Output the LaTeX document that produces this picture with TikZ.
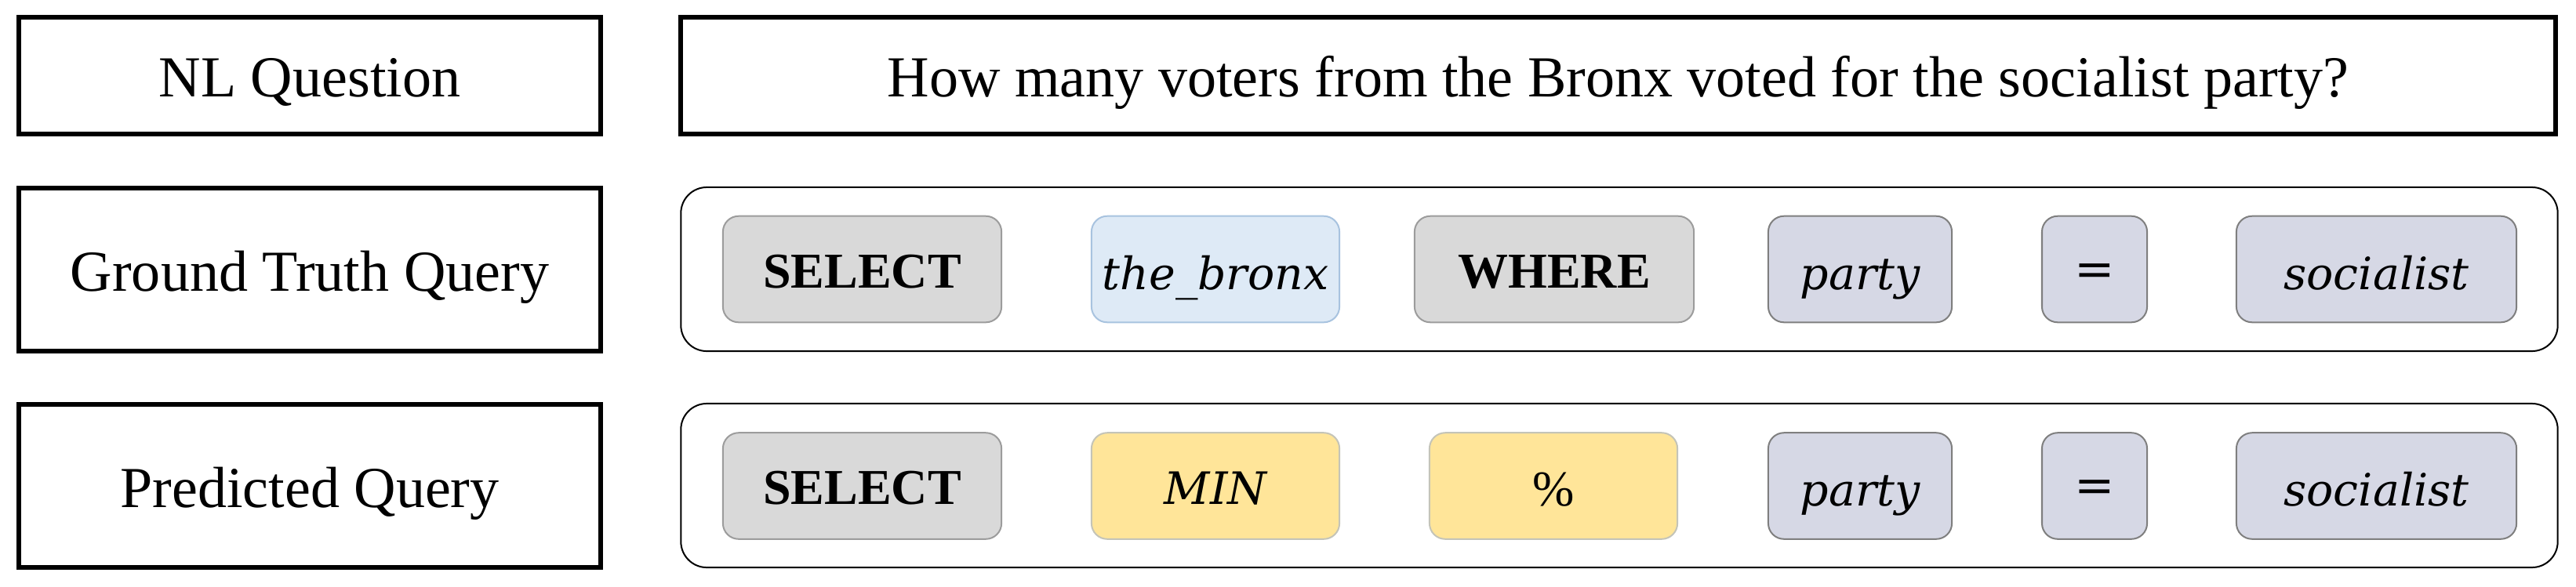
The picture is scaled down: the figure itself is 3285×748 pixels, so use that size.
\documentclass[tikz,border=0pt]{standalone}
\usepackage{fontspec}
\setmainfont{Liberation Serif}
\newfontfamily\tokserif{DejaVu Serif}
\definecolor{kwfill}{HTML}{D9D9D9}
\definecolor{kwdraw}{HTML}{9C9C9C}
\definecolor{bluefill}{HTML}{DEEAF6}
\definecolor{bluedraw}{HTML}{A8C3DF}
\definecolor{lavfill}{HTML}{D6D8E5}
\definecolor{lavdraw}{HTML}{7F7F7F}
\definecolor{yelfill}{HTML}{FFE599}
\definecolor{yeldraw}{HTML}{C4C4B8}
\newcommand{\lblfont}{\fontsize{21.06pt}{25pt}\selectfont}
\newcommand{\kwfont}{\fontsize{18.2pt}{22pt}\selectfont\bfseries}
\newcommand{\tokfont}{\fontsize{16.2pt}{20pt}\selectfont\tokserif\itshape}
\newcommand{\eqfont}{\fontsize{17.5pt}{20pt}\selectfont\tokserif}
\newcommand{\pctfont}{\fontsize{18.2pt}{22pt}\selectfont}
\begin{document}
\begin{tikzpicture}[x=0.01cm,y=-0.01cm,
  lblbox/.style={draw=black, line width=0.06cm, inner sep=0pt, text height=0.54cm, text depth=0pt, font=\lblfont},
  cont/.style={draw=black, line width=0.02cm, rounded corners=0.33cm, inner sep=0pt, minimum width=23.92cm, minimum height=2.09cm},
  tok/.style={line width=0.02cm, rounded corners=0.2cm, inner sep=0pt, minimum height=1.355cm, text depth=0pt, text height=0.5cm, font=\tokfont},
  kw/.style={tok, fill=kwfill, draw=kwdraw, font=\kwfont, text height=0.47cm},
  col/.style={tok, fill=bluefill, draw=bluedraw, text height=0.52cm},
  lav/.style={tok, fill=lavfill, draw=lavdraw, text height=0.51cm},
  yel/.style={tok, fill=yelfill, draw=yeldraw, text height=0.47cm},
  eqtok/.style={lav, font=\eqfont, text height=0.41cm},
  pcttok/.style={yel, font=\pctfont, text height=0.5cm}
]
\useasboundingbox (0,0) rectangle (3285,748);
% left labels
\node[lblbox, minimum width=7.42cm, minimum height=1.495cm] (nlq) at (395,96.3) {NL Question};
\node[lblbox, minimum width=7.42cm, minimum height=2.08cm] (gtq) at (395,344) {Ground Truth Query};
\node[lblbox, minimum width=7.42cm, minimum height=2.08cm] (pq) at (395,620) {Predicted Query};
% question
\node[lblbox, minimum width=23.895cm, minimum height=1.495cm] (question) at (2063.3,96.3) {How many voters from the Bronx voted for the socialist party?};
% containers
\node[cont] (gtbox) at (2065,343.5) {};
\node[cont] (pbox) at (2065,619.5) {};
% ground truth tokens
\node[kw, minimum width=3.55cm] (gsel) at (1099.5,343.5) {SELECT};
\node[col, minimum width=3.16cm] (gcol) at (1550,343.5) {the\_bronx};
\node[kw, minimum width=3.56cm] (gwhere) at (1982,343.5) {WHERE};
\node[lav, minimum width=2.34cm] (gparty) at (2372,343.5) {party};
\node[eqtok, minimum width=1.34cm] (geq) at (2671,343.5) {=};
\node[lav, minimum width=3.57cm] (gsoc) at (3030.5,343.5) {socialist};
% predicted tokens
\node[kw, minimum width=3.55cm] (psel) at (1099.5,620) {SELECT};
\node[yel, minimum width=3.16cm] (pmin) at (1550,620) {MIN};
\node[pcttok, minimum width=3.16cm] (ppct) at (1981,620) {\%};
\node[lav, minimum width=2.34cm] (pparty) at (2372,620) {party};
\node[eqtok, minimum width=1.34cm] (peq) at (2671,620) {=};
\node[lav, minimum width=3.57cm] (psoc) at (3030.5,620) {socialist};
\end{tikzpicture}
\end{document}
